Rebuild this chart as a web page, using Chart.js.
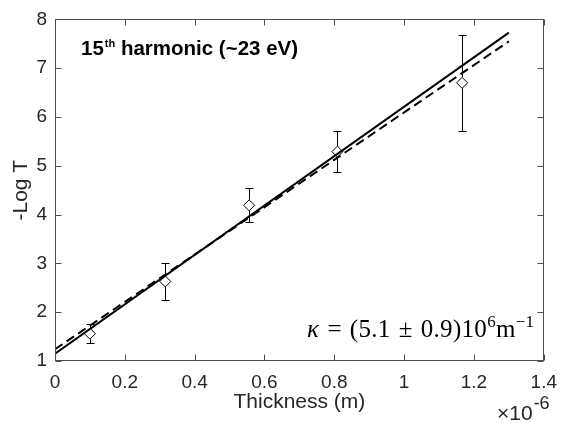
<!DOCTYPE html>
<html>
<head>
<meta charset="utf-8">
<script src="https://cdn.jsdelivr.net/npm/chart.js@4.4.0/dist/chart.umd.min.js"></script>
<style>
  body { margin: 0; background: #fff; }
  #wrap { position: relative; width: 567px; height: 423px; }
  .note { position: absolute; white-space: nowrap; line-height: 1; color: #000; }
  #title { left: 81px; top: 36px; font: bold 20.5px "Liberation Sans", Arial, sans-serif; }
  #title .sup { font-size: 11px; position: relative; top: -8px; margin-left: 1px; }
  #kappa { left: 307px; top: 315px; font: 25px "Liberation Serif", serif; letter-spacing: 0.3px; }
  #kappa .op { margin: 0 0.06em; }
  #kappa .sup { font-size: 17px; position: relative; top: -10px; }
  #expo { left: 497px; top: 401px; font: 21px "Liberation Sans", Arial, sans-serif; color: #262626; }
  #expo .sup { font-size: 18px; position: relative; top: -11px; margin-left: 1px; }
</style>
</head>
<body>
<div id="wrap">
  <canvas id="chart" width="567" height="423"></canvas>
  <div class="note" id="title">15<span class="sup">th</span> harmonic (~23 eV)</div>
  <div class="note" id="kappa"><i>κ</i> <span class="op">=</span> (5.1 <span class="op">±</span> 0.9)10<span class="sup">6</span>m<span class="sup">−1</span></div>
  <div class="note" id="expo">×10<span class="sup">-6</span></div>
</div>
<script>
// thickness in units of 1e-6 m
const thickness = [0.1, 0.316, 0.556, 0.809, 1.166];
const logT = [1.56, 2.63, 4.19, 5.29, 6.70];
const logTErr = [0.19, 0.38, 0.35, 0.42, 0.98];

// fitted lines, end points
const fitX = [0, 1.3];
const fitSolid = [1.15, 7.73];
const fitDashed = [1.24, 7.55];

const xTicks = [0, 0.2, 0.4, 0.6, 0.8, 1, 1.2, 1.4];
const yTicks = [1, 2, 3, 4, 5, 6, 7, 8];

const markerRadius = 5.5;

// error bars, drawn through the library scales
const errorBars = {
    id: 'errorBars',
    afterDatasetsDraw(chart) {
        const ctx = chart.ctx;
        const xs = chart.scales.x, ys = chart.scales.y;
        ctx.save();
        ctx.strokeStyle = '#000';
        ctx.lineWidth = 1;
        thickness.forEach(function(t, i) {
            const px = Math.round(xs.getPixelForValue(t)) + 0.5;
            const pc = ys.getPixelForValue(logT[i]);
            const pTop = Math.round(ys.getPixelForValue(logT[i] + logTErr[i])) + 0.5;
            const pBot = Math.round(ys.getPixelForValue(logT[i] - logTErr[i])) + 0.5;
            ctx.beginPath();
            ctx.moveTo(px, pTop); ctx.lineTo(px, pc - markerRadius);
            ctx.moveTo(px, pc + markerRadius); ctx.lineTo(px, pBot);
            ctx.moveTo(px - 4, pTop); ctx.lineTo(px + 4, pTop);
            ctx.moveTo(px - 4, pBot); ctx.lineTo(px + 4, pBot);
            ctx.stroke();
        });
        ctx.restore();
    }
};

// matlab style box with inward ticks on all four sides
const boxTicks = {
    id: 'boxTicks',
    afterDraw(chart) {
        const ctx = chart.ctx;
        const a = chart.chartArea;
        const xs = chart.scales.x, ys = chart.scales.y;
        const L = Math.round(a.left) + 0.5, R = Math.round(a.right) - 0.5;
        const T = Math.round(a.top) + 0.5, B = Math.round(a.bottom) - 0.5;
        ctx.save();
        ctx.strokeStyle = '#4d4d4d';
        ctx.lineWidth = 1;
        ctx.strokeRect(L, T, R - L, B - T);
        ctx.beginPath();
        xs.ticks.forEach(function(t) {
            const p = Math.round(xs.getPixelForValue(t.value)) + 0.5;
            ctx.moveTo(p, B); ctx.lineTo(p, B - 6);
            ctx.moveTo(p, T); ctx.lineTo(p, T + 6);
        });
        ys.ticks.forEach(function(t) {
            const p = Math.round(ys.getPixelForValue(t.value)) + 0.5;
            ctx.moveTo(L, p); ctx.lineTo(L + 6, p);
            ctx.moveTo(R, p); ctx.lineTo(R - 6, p);
        });
        ctx.stroke();
        ctx.restore();
    }
};

new Chart(document.getElementById('chart').getContext('2d'), {
    type: 'scatter',
    data: {
        datasets: [
            {
                label: 'data',
                data: thickness.map((t, i) => ({ x: t, y: logT[i] })),
                pointStyle: 'rectRot',
                pointRadius: markerRadius,
                pointBorderColor: '#000',
                pointBackgroundColor: 'rgba(0,0,0,0)',
                pointBorderWidth: 1,
                showLine: false
            },
            {
                label: 'fit',
                data: fitX.map((x, i) => ({ x: x, y: fitSolid[i] })),
                showLine: true,
                borderColor: '#000',
                borderWidth: 2,
                pointRadius: 0
            },
            {
                label: 'fit2',
                data: fitX.map((x, i) => ({ x: x, y: fitDashed[i] })),
                showLine: true,
                borderColor: '#000',
                borderWidth: 2,
                borderDash: [9, 5],
                pointRadius: 0
            }
        ]
    },
    options: {
        responsive: false,
        animation: false,
        layout: { padding: { left: 0, right: 15, top: 13, bottom: 0 } },
        plugins: { legend: { display: false }, tooltip: { enabled: false } },
        scales: {
            x: {
                type: 'linear',
                min: 0,
                max: 1.4,
                afterBuildTicks: function(scale) { scale.ticks = xTicks.map(v => ({ value: v })); },
                afterFit: function(scale) { scale.height = 62; },
                grid: { drawOnChartArea: false, drawTicks: false },
                border: { display: false },
                ticks: {
                    padding: 10,
                    color: '#262626',
                    font: { family: '"Liberation Sans", Arial, sans-serif', size: 19 },
                    callback: v => String(+v.toFixed(1))
                },
                title: {
                    display: true,
                    text: 'Thickness (m)',
                    color: '#262626',
                    font: { family: '"Liberation Sans", Arial, sans-serif', size: 21 },
                    padding: { top: 0, bottom: 8 }
                }
            },
            y: {
                min: 1,
                max: 8,
                afterBuildTicks: function(scale) { scale.ticks = yTicks.map(v => ({ value: v })); },
                afterFit: function(scale) { scale.width = 55; },
                grid: { drawOnChartArea: false, drawTicks: false },
                border: { display: false },
                ticks: {
                    padding: 8,
                    color: '#262626',
                    font: { family: '"Liberation Sans", Arial, sans-serif', size: 19 }
                },
                title: {
                    display: true,
                    text: '-Log T',
                    color: '#262626',
                    font: { family: '"Liberation Sans", Arial, sans-serif', size: 21 },
                    padding: { top: 9, bottom: 0 }
                }
            }
        }
    },
    plugins: [errorBars, boxTicks]
});
</script>
</body>
</html>
